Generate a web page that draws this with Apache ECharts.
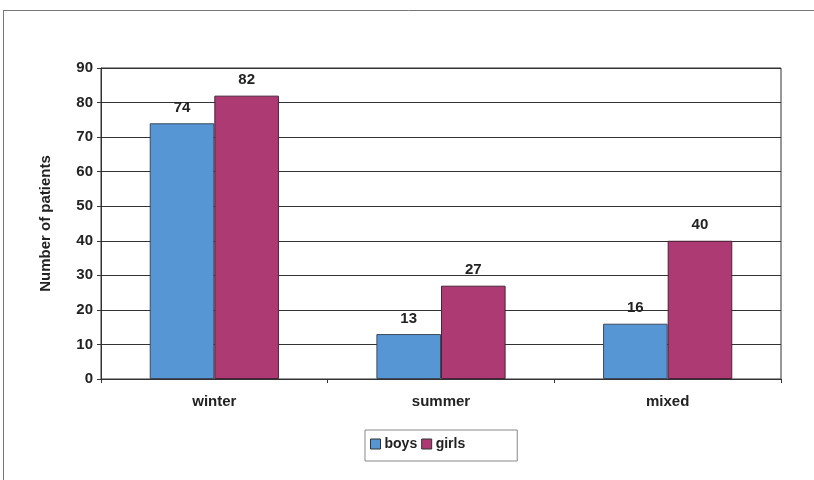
<!DOCTYPE html>
<html>
<head>
<meta charset="utf-8">
<script src="https://cdn.jsdelivr.net/npm/echarts@6/dist/echarts.min.js"></script>
<style>
  html, body { margin: 0; padding: 0; background: #fff; }
  #chart { width: 814px; height: 480px; }
</style>
</head>
<body>
<div id="chart"></div>
<script>
// Patient counts per season, split by sex
const seasons = ['winter', 'summer', 'mixed'];
const boys = [74, 13, 16];
const girls = [82, 27, 40];
const yTicks = { min: 0, max: 90, interval: 10 };

const FONT = '"Liberation Sans", Arial, sans-serif';
const chart = echarts.init(document.getElementById('chart'), null, { renderer: 'canvas' });

const barLabel = {
  show: true,
  position: 'top',
  distance: 8,
  color: '#222',
  fontFamily: FONT,
  fontWeight: 'bold',
  fontSize: 15
};

chart.setOption({
  animation: false,
  backgroundColor: '#fff',
  grid: {
    left: 101, right: 33, top: 68, bottom: 101,
    show: true, borderColor: '#333', borderWidth: 1, backgroundColor: '#fff'
  },
  legend: {
    data: ['boys', 'girls'],
    left: 365, top: 430,
    padding: [7, 52, 10, 5],
    itemWidth: 10, itemHeight: 10, itemGap: 4,
    borderColor: '#888', borderWidth: 1,
    backgroundColor: '#fff',
    textStyle: { fontFamily: FONT, fontWeight: 'bold', fontSize: 14, color: '#222', padding: [0, 0, 0, -1] },
    icon: 'rect',
    itemStyle: { borderColor: '#333', borderWidth: 1 }
  },
  xAxis: {
    type: 'category',
    data: seasons,
    axisLine: { lineStyle: { color: '#333', width: 1 } },
    axisTick: { show: true, length: 4, inside: false, lineStyle: { color: '#333' } },
    axisLabel: { margin: 15, color: '#222', fontFamily: FONT, fontWeight: 'bold', fontSize: 15 }
  },
  yAxis: {
    type: 'value',
    min: yTicks.min, max: yTicks.max, interval: yTicks.interval,
    name: 'Number of patients',
    nameLocation: 'middle',
    nameGap: 48,
    nameTextStyle: { color: '#222', fontFamily: FONT, fontWeight: 'bold', fontSize: 15 },
    axisLine: { show: true, lineStyle: { color: '#333', width: 1 } },
    axisTick: { show: true, length: 4, lineStyle: { color: '#333' } },
    axisLabel: { margin: 8, color: '#222', fontFamily: FONT, fontWeight: 'bold', fontSize: 15 },
    splitLine: { show: true, lineStyle: { color: '#333', width: 1 } }
  },
  series: [
    {
      name: 'boys', type: 'bar', data: boys,
      barGap: '0%', barCategoryGap: '43%',
      itemStyle: { color: '#5796d4', borderColor: '#3a4a5c', borderWidth: 1 },
      label: barLabel
    },
    {
      name: 'girls', type: 'bar', data: girls,
      itemStyle: { color: '#ae3a74', borderColor: '#4a2238', borderWidth: 1 },
      label: barLabel
    }
  ],
  graphic: [
    // outer frame (top and left edges)
    { type: 'line', shape: { x1: 3, y1: 10.5, x2: 814, y2: 10.5 }, style: { stroke: '#777', lineWidth: 1 } },
    { type: 'line', shape: { x1: 3.5, y1: 10, x2: 3.5, y2: 480 }, style: { stroke: '#777', lineWidth: 1 } }
  ]
});
</script>
</body>
</html>
